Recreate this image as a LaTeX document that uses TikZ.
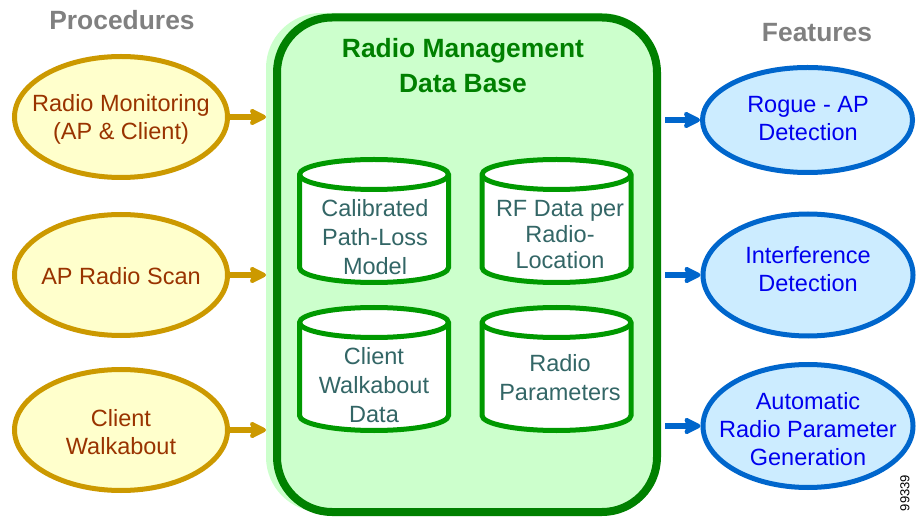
\documentclass[tikz,border=0pt]{standalone}
\usepackage{fontspec}
\setmainfont{Liberation Sans}
\usetikzlibrary{arrows.meta,shapes.geometric}

\definecolor{procline}{HTML}{CC9900}
\definecolor{procfill}{HTML}{FFFFCC}
\definecolor{proctxt}{HTML}{993300}
\definecolor{featline}{HTML}{0066CC}
\definecolor{featfill}{HTML}{CCECFF}
\definecolor{feattxt}{HTML}{0000EE}
\definecolor{dbline}{HTML}{008000}
\definecolor{dbfill}{HTML}{CCFFCC}
\definecolor{cylline}{HTML}{009900}
\definecolor{cyltxt}{HTML}{336666}
\definecolor{headtxt}{HTML}{808080}

% one database cylinder: centre x, y of top rim, y of bottom rim
\newcommand\dbcyl[3]{%
  \draw[cyl] (#1-74.5,#2) -- (#1-74.5,#3)
    arc[start angle=180,end angle=360,x radius=74.5,y radius=15]
    -- (#1+74.5,#2)
    arc[start angle=0,end angle=180,x radius=74.5,y radius=15] -- cycle;
  \draw[cyl,fill=none] (#1-74.5,#2)
    arc[start angle=180,end angle=360,x radius=74.5,y radius=15];
}

\begin{document}
\begin{tikzpicture}[x=1pt,y=1pt,
  txt/.style={align=center,inner sep=0pt,font=\fontsize{23.5}{28}\selectfont},
  proc/.style={ellipse,draw=procline,fill=procfill,line width=5pt,
    minimum width=213pt,minimum height=121pt,inner sep=0pt},
  feat/.style={ellipse,draw=featline,fill=featfill,line width=5pt,
    minimum width=210pt,inner sep=0pt},
  proctext/.style={txt,text=proctxt},
  feattext/.style={txt,text=feattxt},
  cyltext/.style={txt,text=cyltxt},
  cyl/.style={draw=cylline,fill=white,line width=5pt},
  heading/.style={inner sep=0pt,text=headtxt,font=\bfseries\fontsize{26.4}{32}\selectfont},
  goldarrow/.style={draw=procline,line width=6pt,
    -{Stealth[length=20pt,width=20pt,inset=4pt,round]}},
  bluearrow/.style={draw=featline,line width=6pt,
    -{Stealth[length=20pt,width=20pt,inset=4pt,round]}},
]
\useasboundingbox (0,0) rectangle (923,517);

% headings
\node[heading] (hproc) at (122,497) {Procedures};
\node[heading] (hfeat) at (817,484) {Features};

% data base container
\fill[dbfill,rounded corners=55pt] (266,5) rectangle (657,504);
\node[draw=dbline,fill=dbfill,line width=8pt,rounded corners=55pt,
  minimum width=380pt,minimum height=494.5pt,inner sep=0pt] (db) at (467,252.25) {};
\coordinate (dbW) at (266,252);
\node[inner sep=0pt,align=center,text=dbline,
  font=\bfseries\fontsize{26.4}{35}\selectfont] (title) at (463,451) {Radio Management\\Data Base};

% stores
\dbcyl{374}{342.5}{249.5}
\dbcyl{556.5}{342.5}{249.5}
\dbcyl{374}{194.5}{101.5}
\dbcyl{556.5}{194.5}{101.5}
\node[cyltext,font=\fontsize{23.5}{29}\selectfont] (c1) at (375,280) {Calibrated\\Path-Loss\\Model};
\node[cyltext,font=\fontsize{23.5}{26}\selectfont] (c2) at (560,282) {RF Data per\\Radio-\\Location};
\node[cyltext,font=\fontsize{23.5}{29}\selectfont] (c3) at (374,132) {Client\\Walkabout\\Data};
\node[cyltext,font=\fontsize{23.5}{29}\selectfont] (c4) at (560,139) {Radio\\Parameters};

% procedures
\node[proc] (e1) at (121,400) {};
\node[proc] (e2) at (121,242) {};
\node[proc] (e3) at (121,87) {};
\node[proctext] (e1t) at (121,398) {Radio Monitoring\\(AP \& Client)};
\node[proctext] (e2t) at (121,241) {AP Radio Scan};
\node[proctext] (e3t) at (121,85) {Client\\Walkabout};

% features
\node[feat,minimum height=105pt] (r1) at (807.5,397) {};
\node[feat,minimum height=122pt] (r2) at (808,242) {};
\node[feat,minimum height=123pt] (r3) at (808,91) {};
\node[feattext] (r1t) at (808,398) {Rogue - AP\\Detection};
\node[feattext] (r2t) at (808,248) {Interference\\Detection};
\node[feattext] (r3t) at (808,88) {Automatic\\Radio Parameter\\Generation};

% connectors
\draw[goldarrow] (e1) -- (e1 -| dbW);
\draw[goldarrow] (e2) -- (e2 -| dbW);
\draw[goldarrow] (e3) -- (e3 -| dbW);
\draw[bluearrow,shorten <=4pt] (r1 -| db.east) -- (r1);
\draw[bluearrow,shorten <=4pt] (r2 -| db.east) -- (r2);
\draw[bluearrow,shorten <=4pt] (r3 -| db.east) -- (r3);

% figure number
\node[rotate=90,inner sep=0pt,font=\fontsize{13}{15}\selectfont] (fig) at (905,24) {99339};
\end{tikzpicture}
\end{document}
